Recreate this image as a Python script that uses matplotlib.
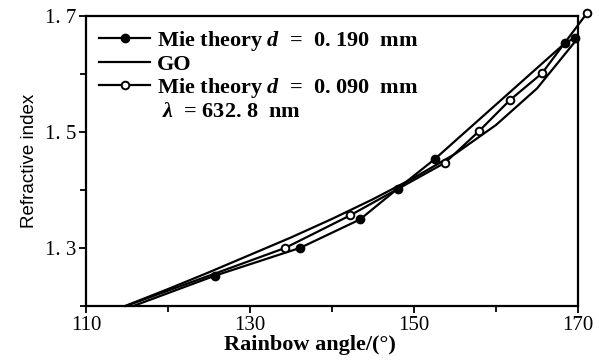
import matplotlib

matplotlib.use("Agg")
import matplotlib.pyplot as plt
from matplotlib.lines import Line2D
from matplotlib.ticker import FixedLocator

# Mie theory, d = 0.190 mm (first point is where the curve leaves the x-axis)
mie190_x = [115.8, 125.7, 136.1, 143.4, 148.0, 152.6, 168.4, 169.6]
mie190_y = [1.200, 1.252, 1.300, 1.349, 1.402, 1.454, 1.653, 1.662]

# Mie theory, d = 0.090 mm
mie090_x = [114.9, 134.3, 142.2, 153.8, 157.9, 161.7, 165.6, 171.1]
mie090_y = [1.200, 1.300, 1.356, 1.447, 1.501, 1.555, 1.601, 1.705]

# geometrical optics curve
go_x = [114.8, 120, 125, 130, 135, 140, 145, 150, 155, 160, 165, 170]
go_y = [1.200, 1.229, 1.258, 1.288, 1.318, 1.350, 1.384, 1.421, 1.462, 1.512, 1.575, 1.662]

xticks = [110, 130, 150, 170]
xminor = [120, 140, 160]
yticks = [1.3, 1.5, 1.7]
yminor = [1.2, 1.4, 1.6]

SERIF = "Liberation Serif"
plt.rcParams.update({"font.family": SERIF, "font.weight": "bold",
                     "mathtext.fontset": "custom", "mathtext.it": "Liberation Serif:italic:bold",
                     "mathtext.rm": "Liberation Serif:bold"})

fig = plt.figure(figsize=(5.99, 3.62), dpi=100)
ax = fig.add_axes([0.1436, 0.155, 0.8214, 0.801])

ax.plot(go_x, go_y, color="black", lw=1.6, clip_on=False)
ax.plot(mie190_x, mie190_y, color="black", lw=1.6, marker="o", ms=6,
        mfc="black", mec="black", markevery=list(range(1, len(mie190_x))), clip_on=False)
ax.plot(mie090_x, mie090_y, color="black", lw=1.6, marker="o", ms=5.5,
        mfc="white", mec="black", mew=1.4, markevery=list(range(1, len(mie090_x))),
        clip_on=False, zorder=3)

ax.set_xlim(110, 170)
ax.set_ylim(1.2, 1.7)
ax.set_xticks(xticks)
ax.set_xticklabels([str(t) for t in xticks], fontweight="normal")
ax.xaxis.set_minor_locator(FixedLocator(xminor))
ax.set_yticks(yticks)
ax.set_yticklabels([f"{t:.1f}".replace(".", ". ") for t in yticks], fontweight="normal")
ax.yaxis.set_minor_locator(FixedLocator(yminor))
ax.tick_params(which="both", direction="out", width=1.3, labelsize=15, pad=2)
ax.tick_params(which="major", length=5)
ax.tick_params(which="minor", length=4)
for s in ax.spines.values():
    s.set_linewidth(1.6)

ax.set_xlabel("Rainbow angle/(°)", fontsize=16, fontweight="bold", labelpad=1)
ax.xaxis.set_label_coords(0.455, -0.1)
ax.set_ylabel("Refractive index", fontsize=13.5, fontweight="normal",
              family="Liberation Sans", labelpad=5)

handles = [
    Line2D([], [], color="black", lw=1.6, marker="o", ms=6, mfc="black"),
    Line2D([], [], color="black", lw=1.6),
    Line2D([], [], color="black", lw=1.6, marker="o", ms=5.5, mfc="white", mew=1.4),
    Line2D([], [], color="none"),
]
labels = [
    r"Mie theory $d$  =  0. 190  mm",
    "GO",
    r"Mie theory $d$  =  0. 090  mm",
    r" $\lambda$  = 632. 8  nm",
]
ax.legend(handles, labels, loc="upper left", bbox_to_anchor=(0.0, 1.0),
          frameon=False, handlelength=2.3, handletextpad=0.3,
          labelspacing=0.05, borderaxespad=0.2,
          prop={"family": SERIF, "weight": "bold", "size": 16})

fig.savefig("out.png", dpi=100)
